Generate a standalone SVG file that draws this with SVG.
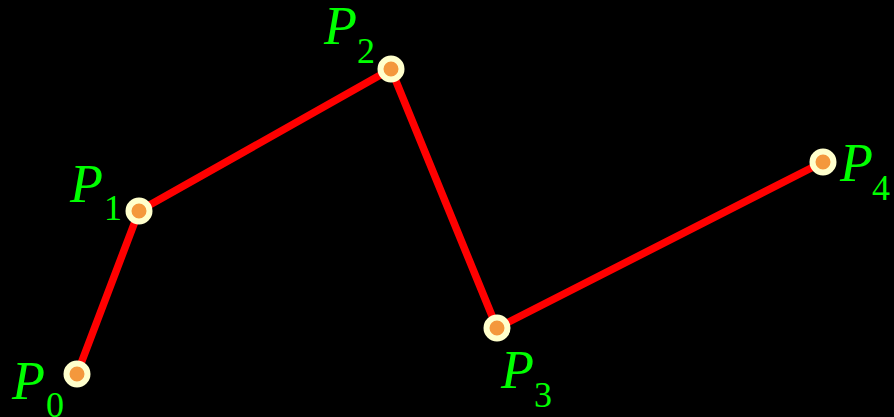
<svg xmlns="http://www.w3.org/2000/svg" width="894" height="417" viewBox="0 0 894 417">
<style>
.lbl{font-family:"Liberation Serif","Times New Roman",serif;fill:#00ff00}
.p{font-style:italic;font-size:54px}
.s{font-size:36px}
.pt{fill:#f4983c;stroke:#ffffcc;stroke-width:6}
</style>
<rect width="894" height="417" fill="#000"/>
<g id="connectors">
<polyline points="77,374 139,211 391,69 497,328 823,162" fill="none" stroke="#ff0000" stroke-width="7.5" stroke-linejoin="round"/>
</g>
<g id="P0"><circle class="pt" cx="77" cy="374" r="10.5"/><text class="lbl p" x="12" y="399">P</text><text class="lbl s" x="46" y="417">0</text></g>
<g id="P1"><circle class="pt" cx="139" cy="211" r="10.5"/><text class="lbl p" x="70" y="202">P</text><text class="lbl s" x="104" y="220">1</text></g>
<g id="P2"><circle class="pt" cx="391" cy="69" r="10.5"/><text class="lbl p" x="324" y="44">P</text><text class="lbl s" x="357" y="63">2</text></g>
<g id="P3"><circle class="pt" cx="497" cy="328" r="10.5"/><text class="lbl p" x="501" y="388">P</text><text class="lbl s" x="534" y="407">3</text></g>
<g id="P4"><circle class="pt" cx="823" cy="162" r="10.5"/><text class="lbl p" x="840" y="181">P</text><text class="lbl s" x="872" y="200">4</text></g>
</svg>
